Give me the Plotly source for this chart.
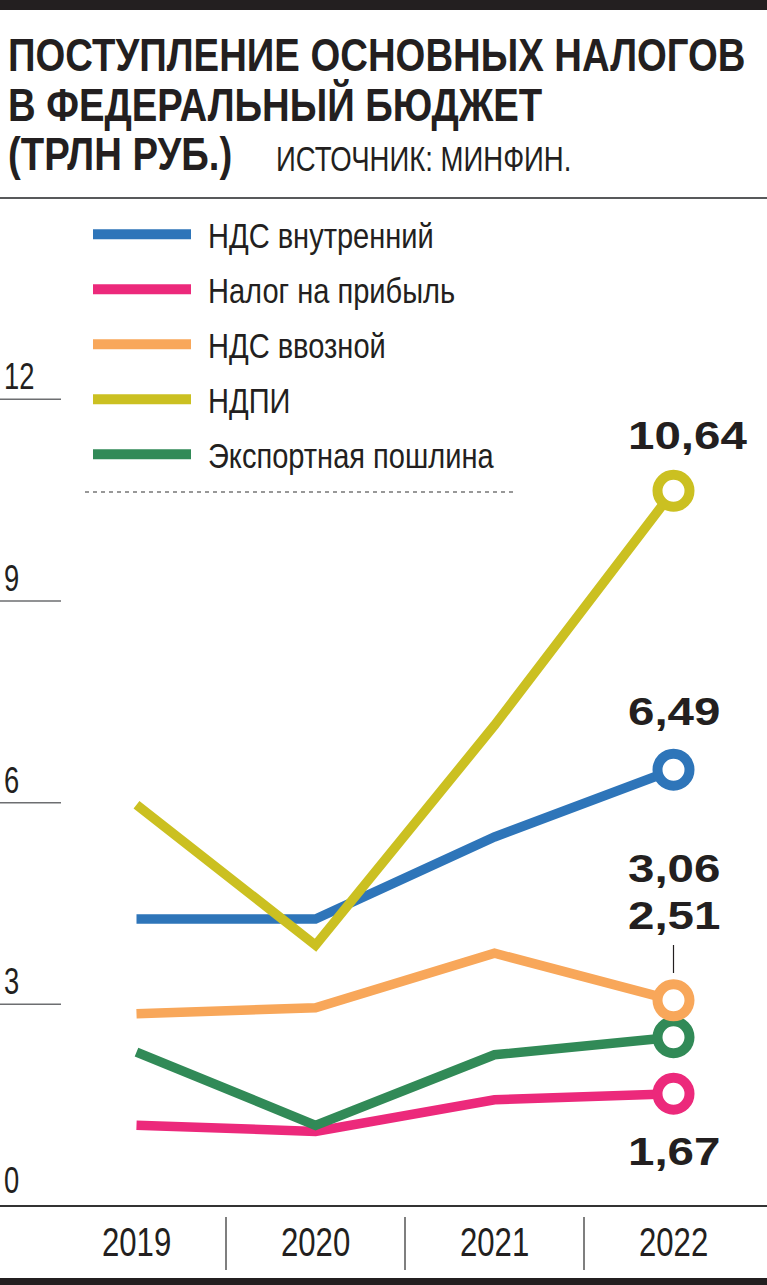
import json
import plotly.graph_objects as go

years = ["2019", "2020", "2021", "2022"]
series_names = ["НДС внутренний", "Налог на прибыль", "НДС ввозной", "НДПИ", "Экспортная пошлина"]
vat_domestic = [4.27, 4.27, 5.49, 6.49]
profit_tax = [1.20, 1.11, 1.58, 1.67]
vat_import = [2.86, 2.95, 3.76, 3.06]
mineral_tax = [5.97, 3.88, 7.15, 10.64]
export_duty = [2.29, 1.20, 2.25, 2.51]
y_ticks = [0, 3, 6, 9, 12]

title_lines = ["ПОСТУПЛЕНИЕ ОСНОВНЫХ НАЛОГОВ", "В ФЕДЕРАЛЬНЫЙ БЮДЖЕТ", "(ТРЛН РУБ.)"]
source = "ИСТОЧНИК: МИНФИН."

values = dict(zip(series_names, [vat_domestic, profit_tax, vat_import, mineral_tax, export_duty]))
colors = {
    "НДС внутренний": "#2e75b9",
    "Налог на прибыль": "#ec297b",
    "НДС ввозной": "#f8a75a",
    "НДПИ": "#cbc021",
    "Экспортная пошлина": "#318a57",
}
# pixel centre of the value label for each series
label_y = {
    "НДПИ": 436,
    "НДС внутренний": 711.5,
    "НДС ввозной": 869,
    "Экспортная пошлина": 915.5,
    "Налог на прибыль": 1152,
}

W, H = 767, 1285
FONT = "Liberation Sans, Arial, sans-serif"
INK = "#231f20"

# axis mapping: 0 -> 1206px, 12 -> 399.3px ; categories 179px apart, first at 136.5px
unit = (1206 - 399.3) / 12
step = 179.0
x0px = 136.5


def px(x):
    return x / W


def py(y):
    return 1 - y / H


# horizontal squeeze applied after render (condensed type), keyed by text
squeeze = {}
annotations = []


def label(text, x, y, size, k=1.0, anchor="left", weight="normal", xref="paper", yref="paper",
          yanchor="middle", yshift=0):
    annotations.append(dict(
        text=text, x=x, y=y, xref=xref, yref=yref, xanchor=anchor, yanchor=yanchor,
        align=anchor, showarrow=False, yshift=yshift, borderpad=0,
        font=dict(family=FONT, size=size, color=INK, weight=weight),
    ))
    if k != 1.0:
        squeeze[text] = [k, "l" if anchor == "left" else "c"]


fig = go.Figure()

draw_order = ["НДС внутренний", "Налог на прибыль", "НДС ввозной", "НДПИ", "Экспортная пошлина"]
for name in draw_order:
    fig.add_trace(go.Scatter(
        x=years, y=values[name], mode="lines", name=name,
        line=dict(color=colors[name], width=9.5), showlegend=False, hoverinfo="skip",
    ))

marker_order = ["Экспортная пошлина", "Налог на прибыль", "НДС внутренний", "НДС ввозной", "НДПИ"]
for name in marker_order:
    fig.add_trace(go.Scatter(
        x=[years[-1]], y=[values[name][-1]], mode="markers", showlegend=False, hoverinfo="skip",
        marker=dict(size=32, color="white", line=dict(color=colors[name], width=10)),
    ))

shapes = []
# top and bottom black bars, rule under the title
shapes.append(dict(type="rect", xref="paper", yref="paper", x0=0, x1=1, y0=py(10), y1=1,
                   fillcolor=INK, line_width=0, layer="above"))
shapes.append(dict(type="rect", xref="paper", yref="paper", x0=0, x1=1, y0=0, y1=py(1278),
                   fillcolor=INK, line_width=0, layer="above"))
shapes.append(dict(type="line", xref="paper", yref="paper", x0=0, x1=1, y0=py(198), y1=py(198),
                   line=dict(color="#58595b", width=2)))

# legend
for i, name in enumerate(series_names):
    ypx = 234.3 + i * 55
    shapes.append(dict(type="line", xref="paper", yref="paper", x0=px(93), x1=px(191),
                       y0=py(ypx), y1=py(ypx), line=dict(color=colors[name], width=10)))
    label(name, px(207), py(ypx + 1), 35, k=0.83)
shapes.append(dict(type="line", xref="paper", yref="paper", x0=px(85), x1=px(517), y0=py(492), y1=py(492),
                   line=dict(color="#333333", width=1.2, dash="4px,4px")))

# y ticks
for t in y_ticks:
    if t == 0:
        shapes.append(dict(type="line", xref="paper", yref="y", x0=0, x1=1, y0=t, y1=t,
                           line=dict(color="#333333", width=2)))
    else:
        shapes.append(dict(type="line", xref="paper", yref="y", x0=0, x1=px(61), y0=t, y1=t,
                           line=dict(color="#6d6e71", width=1.5)))
    label(str(t), px(3), t, 37, k=0.74, yref="y", yanchor="bottom", yshift=4 if t == 0 else 1)

# year separators and labels (category axis: positions are category indices)
for i, yr in enumerate(years):
    if i > 0:
        shapes.append(dict(type="line", xref="x", yref="paper", x0=i - 0.5, x1=i - 0.5,
                           y0=py(1270), y1=py(1217), line=dict(color="#555555", width=1.5)))
    label(yr, i, py(1242), 41, k=0.76, anchor="center", xref="x")

# leader line from 2,51 to the import-VAT marker
shapes.append(dict(type="line", xref="x", yref="paper", x0=3, x1=3, y0=py(973), y1=py(945),
                   line=dict(color=INK, width=1.2)))

# end values
for name in series_names:
    txt = f"{values[name][-1]:.2f}".replace(".", ",")
    label(txt, px(627), py(label_y[name]), 38, k=1.25, weight="bold")

# title and source
for i, line in enumerate(title_lines):
    label(line, px(7), py(54.7 + i * 49.5), 47, k=0.815, weight="bold")
label(source, px(275), py(158.5), 36, k=0.765)

fig.update_layout(
    width=W, height=H,
    margin=dict(l=0, r=0, t=0, b=0, pad=0),
    paper_bgcolor="white", plot_bgcolor="white",
    showlegend=False,
    xaxis=dict(type="category", range=[-x0px / step, (W - x0px) / step], visible=False, fixedrange=True),
    yaxis=dict(range=[-(H - 1206) / unit, 12 + 399.3 / unit], visible=False, fixedrange=True),
    shapes=shapes,
    annotations=annotations,
)

post = """
document.body.style.margin = '0';
var s = %s;
document.querySelectorAll('text.annotation-text').forEach(function (el) {
  var k = s[el.textContent];
  if (!k) return;
  var b = el.getBBox();
  var ox = k[1] === 'l' ? b.x : b.x + b.width / 2;
  var t = el.getAttribute('transform') || '';
  el.setAttribute('transform', t + ' translate(' + ox + ',0) scale(' + k[0] + ',1) translate(' + (-ox) + ',0)');
});
""" % json.dumps(squeeze)

fig.write_html("out.html", post_script=post, config={"displayModeBar": False})
